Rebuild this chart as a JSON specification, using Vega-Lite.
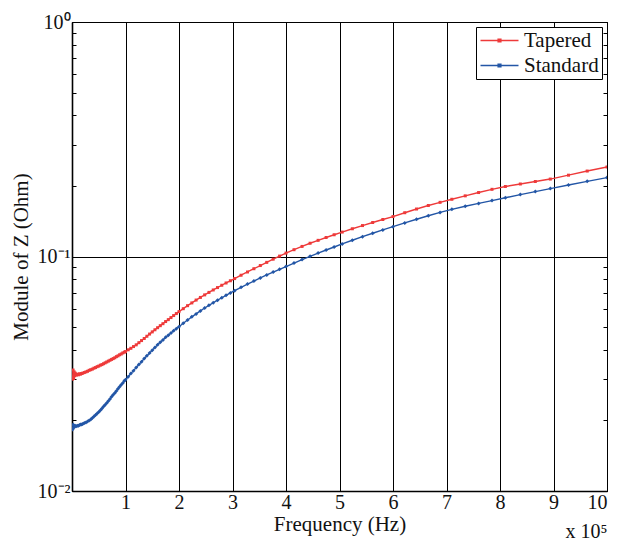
{
  "$schema": "https://vega.github.io/schema/vega-lite/v6.json",
  "autosize": {"type": "none"},
  "padding": {"left": 72, "top": 22, "right": 12, "bottom": 52},
  "width": 535,
  "height": 469,
  "background": "white",
  "title": {"text": "x 10⁵", "orient": "bottom", "anchor": "end", "font": "Liberation Serif", "fontSize": 20, "fontWeight": "normal", "color": "#111", "offset": -12},
  "data": {"values": [
    {"f": 0.01, "Tapered": 0.0300, "Standard": 0.0183},
    {"f": 0.02, "Tapered": 0.0328, "Standard": 0.0192},
    {"f": 0.03, "Tapered": 0.0302, "Standard": 0.0186},
    {"f": 0.04, "Tapered": 0.0322, "Standard": 0.0190},
    {"f": 0.05, "Tapered": 0.0310, "Standard": 0.0188},
    {"f": 0.06, "Tapered": 0.0318, "Standard": 0.0190},
    {"f": 0.08, "Tapered": 0.0312, "Standard": 0.0189},
    {"f": 0.10, "Tapered": 0.0315, "Standard": 0.0190},
    {"f": 0.12, "Tapered": 0.0313, "Standard": 0.0190},
    {"f": 0.14, "Tapered": 0.0316, "Standard": 0.0191},
    {"f": 0.16, "Tapered": 0.0315, "Standard": 0.0192},
    {"f": 0.18, "Tapered": 0.0317, "Standard": 0.0192},
    {"f": 0.20, "Tapered": 0.0318, "Standard": 0.0193},
    {"f": 0.23, "Tapered": 0.0320, "Standard": 0.0195},
    {"f": 0.26, "Tapered": 0.0322, "Standard": 0.0196},
    {"f": 0.29, "Tapered": 0.0324, "Standard": 0.0198},
    {"f": 0.32, "Tapered": 0.0327, "Standard": 0.0200},
    {"f": 0.35, "Tapered": 0.0329, "Standard": 0.0202},
    {"f": 0.38, "Tapered": 0.0331, "Standard": 0.0205},
    {"f": 0.41, "Tapered": 0.0334, "Standard": 0.0208},
    {"f": 0.44, "Tapered": 0.0336, "Standard": 0.0211},
    {"f": 0.47, "Tapered": 0.0339, "Standard": 0.0214},
    {"f": 0.50, "Tapered": 0.0341, "Standard": 0.0217},
    {"f": 0.53, "Tapered": 0.0344, "Standard": 0.0221},
    {"f": 0.56, "Tapered": 0.0346, "Standard": 0.0225},
    {"f": 0.59, "Tapered": 0.0349, "Standard": 0.0229},
    {"f": 0.62, "Tapered": 0.0352, "Standard": 0.0233},
    {"f": 0.65, "Tapered": 0.0355, "Standard": 0.0237},
    {"f": 0.68, "Tapered": 0.0358, "Standard": 0.0242},
    {"f": 0.71, "Tapered": 0.0361, "Standard": 0.0247},
    {"f": 0.74, "Tapered": 0.0364, "Standard": 0.0252},
    {"f": 0.77, "Tapered": 0.0367, "Standard": 0.0257},
    {"f": 0.80, "Tapered": 0.0370, "Standard": 0.0262},
    {"f": 0.83, "Tapered": 0.0374, "Standard": 0.0267},
    {"f": 0.86, "Tapered": 0.0377, "Standard": 0.0273},
    {"f": 0.89, "Tapered": 0.0381, "Standard": 0.0278},
    {"f": 0.92, "Tapered": 0.0384, "Standard": 0.0284},
    {"f": 0.95, "Tapered": 0.0388, "Standard": 0.0289},
    {"f": 0.98, "Tapered": 0.0391, "Standard": 0.0295},
    {"f": 1.00, "Tapered": 0.0393, "Standard": 0.0298},
    {"f": 1.05, "Tapered": 0.0400, "Standard": 0.0307},
    {"f": 1.10, "Tapered": 0.0406, "Standard": 0.0317},
    {"f": 1.15, "Tapered": 0.0413, "Standard": 0.0326},
    {"f": 1.20, "Tapered": 0.0420, "Standard": 0.0336},
    {"f": 1.25, "Tapered": 0.0429, "Standard": 0.0346},
    {"f": 1.30, "Tapered": 0.0438, "Standard": 0.0356},
    {"f": 1.35, "Tapered": 0.0447, "Standard": 0.0367},
    {"f": 1.40, "Tapered": 0.0457, "Standard": 0.0377},
    {"f": 1.45, "Tapered": 0.0467, "Standard": 0.0388},
    {"f": 1.50, "Tapered": 0.0477, "Standard": 0.0398},
    {"f": 1.55, "Tapered": 0.0487, "Standard": 0.0409},
    {"f": 1.60, "Tapered": 0.0497, "Standard": 0.0420},
    {"f": 1.65, "Tapered": 0.0507, "Standard": 0.0431},
    {"f": 1.70, "Tapered": 0.0517, "Standard": 0.0441},
    {"f": 1.75, "Tapered": 0.0528, "Standard": 0.0452},
    {"f": 1.80, "Tapered": 0.0538, "Standard": 0.0462},
    {"f": 1.85, "Tapered": 0.0549, "Standard": 0.0472},
    {"f": 1.90, "Tapered": 0.0560, "Standard": 0.0482},
    {"f": 1.95, "Tapered": 0.0571, "Standard": 0.0492},
    {"f": 2.00, "Tapered": 0.0582, "Standard": 0.0502},
    {"f": 2.08, "Tapered": 0.0599, "Standard": 0.0519},
    {"f": 2.16, "Tapered": 0.0617, "Standard": 0.0536},
    {"f": 2.24, "Tapered": 0.0634, "Standard": 0.0553},
    {"f": 2.32, "Tapered": 0.0652, "Standard": 0.0569},
    {"f": 2.40, "Tapered": 0.0669, "Standard": 0.0586},
    {"f": 2.48, "Tapered": 0.0686, "Standard": 0.0603},
    {"f": 2.56, "Tapered": 0.0703, "Standard": 0.0619},
    {"f": 2.64, "Tapered": 0.0720, "Standard": 0.0635},
    {"f": 2.72, "Tapered": 0.0737, "Standard": 0.0651},
    {"f": 2.80, "Tapered": 0.0754, "Standard": 0.0667},
    {"f": 2.88, "Tapered": 0.0771, "Standard": 0.0683},
    {"f": 2.96, "Tapered": 0.0788, "Standard": 0.0699},
    {"f": 3.04, "Tapered": 0.0805, "Standard": 0.0715},
    {"f": 3.16, "Tapered": 0.0832, "Standard": 0.0739},
    {"f": 3.28, "Tapered": 0.0859, "Standard": 0.0763},
    {"f": 3.40, "Tapered": 0.0887, "Standard": 0.0786},
    {"f": 3.52, "Tapered": 0.0915, "Standard": 0.0810},
    {"f": 3.64, "Tapered": 0.0944, "Standard": 0.0834},
    {"f": 3.76, "Tapered": 0.0974, "Standard": 0.0858},
    {"f": 3.88, "Tapered": 0.1004, "Standard": 0.0882},
    {"f": 4.00, "Tapered": 0.1034, "Standard": 0.0906},
    {"f": 4.15, "Tapered": 0.1069, "Standard": 0.0938},
    {"f": 4.30, "Tapered": 0.1104, "Standard": 0.0970},
    {"f": 4.45, "Tapered": 0.1139, "Standard": 0.1002},
    {"f": 4.60, "Tapered": 0.1172, "Standard": 0.1034},
    {"f": 4.75, "Tapered": 0.1205, "Standard": 0.1066},
    {"f": 4.90, "Tapered": 0.1238, "Standard": 0.1098},
    {"f": 5.05, "Tapered": 0.1271, "Standard": 0.1131},
    {"f": 5.24, "Tapered": 0.1313, "Standard": 0.1173},
    {"f": 5.43, "Tapered": 0.1355, "Standard": 0.1215},
    {"f": 5.62, "Tapered": 0.1396, "Standard": 0.1256},
    {"f": 5.81, "Tapered": 0.1438, "Standard": 0.1298},
    {"f": 6.00, "Tapered": 0.1480, "Standard": 0.1340},
    {"f": 6.22, "Tapered": 0.1537, "Standard": 0.1391},
    {"f": 6.44, "Tapered": 0.1594, "Standard": 0.1442},
    {"f": 6.66, "Tapered": 0.1650, "Standard": 0.1492},
    {"f": 6.88, "Tapered": 0.1702, "Standard": 0.1542},
    {"f": 7.10, "Tapered": 0.1754, "Standard": 0.1589},
    {"f": 7.35, "Tapered": 0.1814, "Standard": 0.1637},
    {"f": 7.60, "Tapered": 0.1874, "Standard": 0.1684},
    {"f": 7.85, "Tapered": 0.1934, "Standard": 0.1732},
    {"f": 8.10, "Tapered": 0.1988, "Standard": 0.1780},
    {"f": 8.38, "Tapered": 0.2038, "Standard": 0.1836},
    {"f": 8.66, "Tapered": 0.2089, "Standard": 0.1892},
    {"f": 8.94, "Tapered": 0.2139, "Standard": 0.1948},
    {"f": 9.28, "Tapered": 0.2222, "Standard": 0.2019},
    {"f": 9.63, "Tapered": 0.2314, "Standard": 0.2092},
    {"f": 10.0, "Tapered": 0.2410, "Standard": 0.2170}
  ]},
  "transform": [{"fold": ["Tapered", "Standard"], "as": ["series", "Z"]}],
  "resolve": {"axis": {"x": "independent", "y": "independent"}},
  "layer": [
    {
      "mark": {"type": "line", "strokeWidth": 1.4, "clip": true},
      "encoding": {
        "x": {"field": "f", "type": "quantitative",
          "scale": {"domain": [0, 10], "nice": false, "zero": false},
          "axis": {"orient": "bottom", "values": [0,1,2,3,4,5,6,7,8,9,10],
            "labelExpr": "datum.value == 0 ? '' : datum.label",
            "title": "Frequency (Hz)", "grid": true, "gridColor": "#000", "gridOpacity": 1, "gridWidth": 1,
            "tickSize": -4, "tickColor": "#000", "domainColor": "#000", "domainWidth": 1.6,
            "labelFont": "Liberation Serif", "labelFontSize": 20, "labelColor": "#111", "labelPadding": 5,
            "titleFont": "Liberation Serif", "titleFontSize": 21, "titleFontWeight": "normal", "titleColor": "#111", "titlePadding": 1}},
        "y": {"field": "Z", "type": "quantitative",
          "scale": {"type": "log", "domain": [0.01, 1], "nice": false},
          "axis": {"orient": "left",
            "values": [0.01,0.02,0.03,0.04,0.05,0.06,0.07,0.08,0.09,0.1,0.2,0.3,0.4,0.5,0.6,0.7,0.8,0.9,1],
            "labelExpr": "datum.value == 0.01 ? '10⁻²' : datum.value == 0.1 ? '10⁻¹' : datum.value == 1 ? '10⁰' : ''",
            "title": "Module of Z (Ohm)", "grid": true, "gridColor": "#000", "gridWidth": 1,
            "gridOpacity": {"condition": {"test": "datum.value == 0.1", "value": 1}, "value": 0},
            "tickSize": -4, "tickColor": "#000", "domainColor": "#000", "domainWidth": 1.6,
            "labelFont": "Liberation Serif", "labelFontSize": 20, "labelColor": "#111", "labelPadding": 6,
            "titleFont": "Liberation Serif", "titleFontSize": 21, "titleFontWeight": "normal", "titleColor": "#111", "titlePadding": 6}},
        "color": {"field": "series", "type": "nominal",
          "scale": {"domain": ["Tapered", "Standard"], "range": ["#ee3a3a", "#2356a6"]},
          "legend": {"title": null, "orient": "top-right", "offset": 5,
            "strokeColor": "#000", "fillColor": "white", "padding": 3, "rowPadding": 3,
            "labelFont": "Liberation Serif", "labelFontSize": 21, "labelColor": "#111", "labelOffset": 14,
            "symbolOffset": 10,
            "symbolType": "M-2,0H2M-0.14,-0.14H0.14V0.14H-0.14Z", "symbolSize": 361, "symbolStrokeWidth": 1.5}}
      }
    },
    {
      "transform": [{"filter": "datum.series == 'Tapered'"}],
      "mark": {"type": "point", "filled": true, "opacity": 1, "clip": true, "shape": "square", "size": 9},
      "encoding": {
        "x": {"field": "f", "type": "quantitative",
          "axis": {"orient": "top", "values": [0,1,2,3,4,5,6,7,8,9,10], "labels": false, "title": null,
            "grid": false, "tickSize": -4, "tickColor": "#000", "domain": false}},
        "y": {"field": "Z", "type": "quantitative",
          "axis": {"orient": "right",
            "values": [0.01,0.02,0.03,0.04,0.05,0.06,0.07,0.08,0.09,0.1,0.2,0.3,0.4,0.5,0.6,0.7,0.8,0.9,1],
            "labels": false, "title": null, "grid": false, "tickSize": -4, "tickColor": "#000", "domain": false}},
        "color": {"field": "series", "type": "nominal", "legend": null}
      }
    },
    {
      "transform": [{"filter": "datum.series == 'Standard'"}],
      "mark": {"type": "point", "filled": true, "opacity": 1, "clip": true, "shape": "diamond", "size": 16},
      "encoding": {
        "x": {"field": "f", "type": "quantitative", "axis": null},
        "y": {"field": "Z", "type": "quantitative", "axis": null},
        "color": {"field": "series", "type": "nominal", "legend": null}
      }
    }
  ],
  "config": {"view": {"stroke": "#000", "strokeWidth": 1}}
}
